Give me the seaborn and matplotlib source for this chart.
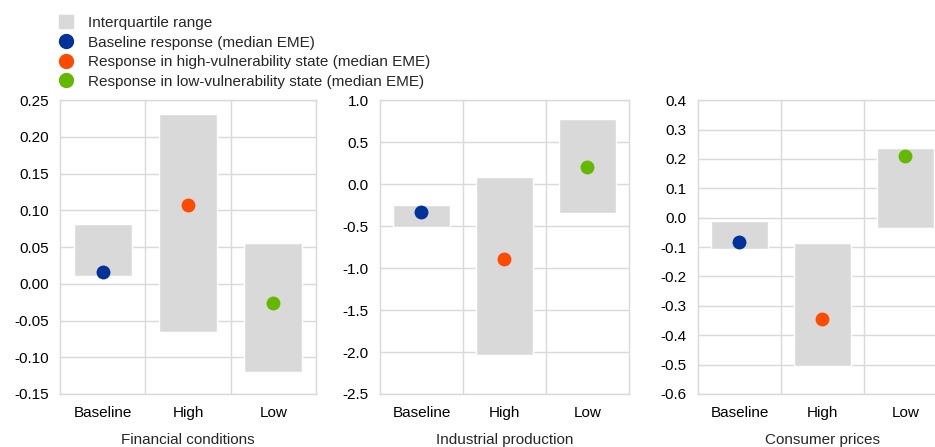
import matplotlib
matplotlib.use("Agg")
import matplotlib.pyplot as plt
import matplotlib.patches as mpatches
from matplotlib.lines import Line2D
import numpy as np
import pandas as pd
import seaborn as sns

# data
states = ["Baseline", "High", "Low"]
panels = ["Financial conditions", "Industrial production", "Consumer prices"]

fin_q25 = [0.010, -0.065, -0.120]
fin_q75 = [0.082, 0.231, 0.055]
fin_med = [0.0155, 0.107, -0.026]

ip_q25 = [-0.516, -2.036, -0.341]
ip_q75 = [-0.246, 0.083, 0.774]
ip_med = [-0.33, -0.893, 0.202]

cp_q25 = [-0.106, -0.505, -0.034]
cp_q75 = [-0.010, -0.0875, 0.236]
cp_med = [-0.084, -0.345, 0.211]

ylims = [(-0.15, 0.25), (-2.5, 1.0), (-0.6, 0.4)]
yticks = [np.arange(-0.15, 0.2501, 0.05), np.arange(-2.5, 1.01, 0.5), np.arange(-0.6, 0.401, 0.1)]
yfmt = ["{:.2f}", "{:.1f}", "{:.1f}"]

colors = {"Baseline": "#003299", "High": "#ff4b00", "Low": "#65b800"}
grey = "#d9d9d9"
grid_c = "#d9d9d9"

sns.set_theme(style="white")
plt.rcParams["font.family"] = ["Liberation Sans", "DejaVu Sans"]
plt.rcParams["font.size"] = 11

fig = plt.figure(figsize=(9.35, 4.47), dpi=100)
positions = [(0.0642, 0.338), (0.4064, 0.6727), (0.7465, 1.0128)]
bottom, top = 0.1186, 0.776

data = [(fin_q25, fin_q75, fin_med), (ip_q25, ip_q75, ip_med), (cp_q25, cp_q75, cp_med)]

for i, (name, (q25, q75, med)) in enumerate(zip(panels, data)):
    l, r = positions[i]
    ax = fig.add_axes([l, bottom, r - l, top - bottom])
    df = pd.DataFrame({"state": states, "q25": q25, "q75": q75, "med": med})
    xs = np.arange(len(states))
    ax.bar(xs, df["q75"] - df["q25"], bottom=df["q25"], width=0.68, color=grey, zorder=2)
    sns.stripplot(data=df, x="state", y="med", hue="state", palette=colors, jitter=False,
                  size=10, linewidth=0, ax=ax, legend=False, zorder=3)
    ax.set_xlim(-0.5, 2.5)
    ax.set_ylim(*ylims[i])
    ax.set_yticks(yticks[i])
    ax.set_yticklabels([yfmt[i].format(0.0 if abs(v) < 1e-9 else v) for v in yticks[i]])
    ax.set_xticks(xs)
    ax.set_xticklabels(states)
    ax.set_axisbelow(True)
    ax.grid(axis="y", color=grid_c, linewidth=1, zorder=0)
    for xv in [0.5, 1.5]:
        ax.axvline(xv, color=grid_c, linewidth=1, zorder=0)
    for sp in ax.spines.values():
        sp.set_color(grid_c)
        sp.set_linewidth(1)
    ax.tick_params(axis="both", length=0, labelsize=11, colors="#000000")
    ax.tick_params(axis="y", pad=8)
    ax.tick_params(axis="x", pad=9)
    ax.set_ylabel("")
    ax.set_xlabel(name, fontsize=11, labelpad=9)

handles = [
    mpatches.Patch(color=grey, label="Interquartile range"),
    Line2D([], [], marker="o", linestyle="", markersize=10, color=colors["Baseline"],
           label="Baseline response (median EME)"),
    Line2D([], [], marker="o", linestyle="", markersize=10, color=colors["High"],
           label="Response in high-vulnerability state (median EME)"),
    Line2D([], [], marker="o", linestyle="", markersize=10, color=colors["Low"],
           label="Response in low-vulnerability state (median EME)"),
]
fig.legend(handles=handles, loc="upper left", bbox_to_anchor=(0.052, 0.99), frameon=False,
           fontsize=11, labelspacing=0.34, handlelength=0.9, handleheight=0.9,
           handletextpad=0.95, borderaxespad=0.3)

fig.savefig("out.png", dpi=100)
